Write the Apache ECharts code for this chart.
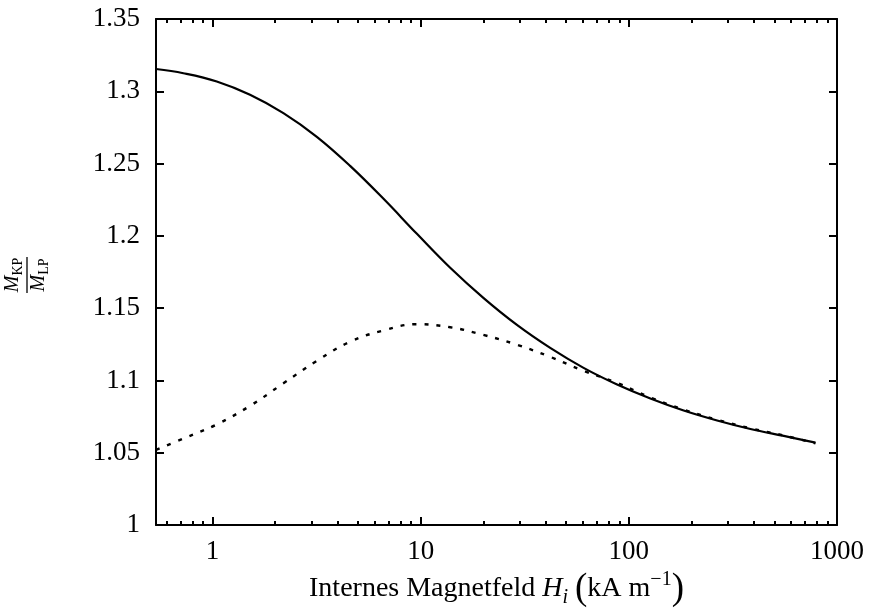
<!DOCTYPE html>
<html>
<head>
<meta charset="utf-8">
<script src="https://cdn.jsdelivr.net/npm/echarts@6/dist/echarts.min.js"></script>
<style>html,body{margin:0;padding:0;background:#fff;}#c{width:879px;height:612px;}</style>
</head>
<body>
<div id="c"></div>
<script>
// ---- data ----
const hSolid = [0.535, 0.724, 1.048, 1.514, 2.19, 3.17, 4.58, 6.63, 9.59, 13.86, 20.0, 29.0, 41.9, 60.6, 87.8, 126.9, 183.4, 265.5, 383.8, 554.9, 788];
const mSolid = [1.3154, 1.3125, 1.3068, 1.2976, 1.2849, 1.2685, 1.2484, 1.2256, 1.2014, 1.1779, 1.1571, 1.1384, 1.1225, 1.1087, 1.0972, 1.0875, 1.0792, 1.0723, 1.0664, 1.0616, 1.0570];
const hDashed = [0.535, 0.724, 1.048, 1.514, 2.19, 3.17, 4.58, 6.63, 9.59, 13.86, 20.0, 29.0, 41.9, 60.6, 87.8, 126.9, 183.4, 265.5, 383.8, 554.9, 788];
const mDashed = [1.0519, 1.0598, 1.0696, 1.0824, 1.0980, 1.1136, 1.1268, 1.1346, 1.1389, 1.1368, 1.1315, 1.1247, 1.1163, 1.1066, 1.0983, 1.0882, 1.0798, 1.0728, 1.0669, 1.0619, 1.0565];
const xMajorTicks = [1, 10, 100, 1000];
const xMinorTicks = [0.6, 0.7, 0.8, 0.9, 2, 3, 4, 5, 6, 7, 8, 9, 20, 30, 40, 50, 60, 70, 80, 90, 200, 300, 400, 500, 600, 700, 800, 900];
const X_MIN = 0.535, X_MAX = 1000;
const Y_MIN = 1, Y_MAX = 1.35, Y_STEP = 0.05;

const FONT = '"Liberation Serif", "DejaVu Serif", serif';
const FS = 27;
const FT = 28;

const chart = echarts.init(document.getElementById('c'), null, {renderer: 'canvas'});

function zip(a, b) { return a.map((v, i) => [v, b[i]]); }

const lineCol = '#000';
function xAxisDef(pos, ticks, len, showLabels, extra) {
  return Object.assign({
    type: 'log', logBase: 10, min: X_MIN, max: X_MAX, position: pos,
    axisLine: {show: pos === 'bottom' && showLabels || pos === 'top' && len > 5, onZero: false, lineStyle: {color: lineCol, width: 2}},
    axisTick: {show: true, inside: true, length: len, customValues: ticks, lineStyle: {color: lineCol, width: 2}},
    axisLabel: {show: showLabels, customValues: ticks, fontFamily: FONT, fontSize: FS, color: '#000', margin: 13,
      formatter: v => String(Math.round(v))},
    splitLine: {show: false}, minorTick: {show: false}, minorSplitLine: {show: false}
  }, extra || {});
}

const option = {
  backgroundColor: '#fff',
  animation: false,
  grid: {left: 156, right: 42, top: 19, bottom: 87, containLabel: false, outerBoundsMode: 'none'},
  xAxis: [
    xAxisDef('bottom', xMajorTicks, 8, true, {
      name: '{t|Internes Magnetfeld }{i|H}{sub|i}{t| }{p|(}{t|kA m}{sup|−1}{p|)}',
      nameLocation: 'middle', nameGap: 43,
      nameTextStyle: {
        fontFamily: FONT, fontSize: FT, color: '#000',
        rich: {
          t: {fontFamily: FONT, fontSize: FT, color: '#000', lineHeight: 38, verticalAlign: 'middle'},
          i: {fontFamily: FONT, fontSize: FT, fontStyle: 'italic', color: '#000', lineHeight: 38, verticalAlign: 'middle'},
          sub: {fontFamily: FONT, fontSize: 20, fontStyle: 'italic', color: '#000', lineHeight: 26, verticalAlign: 'bottom'},
          sup: {fontFamily: FONT, fontSize: 20, color: '#000', lineHeight: 22, verticalAlign: 'top'},
          p: {fontFamily: FONT, fontSize: 37, color: '#000', lineHeight: 38, verticalAlign: 'middle'}
        }
      }
    }),
    xAxisDef('bottom', xMinorTicks, 4, false),
    xAxisDef('top', xMajorTicks, 8, false),
    xAxisDef('top', xMinorTicks, 4, false)
  ],
  yAxis: [
    {
      type: 'value', min: Y_MIN, max: Y_MAX, interval: Y_STEP, position: 'left',
      axisLine: {show: true, lineStyle: {color: lineCol, width: 2}},
      axisTick: {show: true, inside: true, length: 8, lineStyle: {color: lineCol, width: 2}},
      axisLabel: {fontFamily: FONT, fontSize: FS, color: '#000', margin: 16,
        formatter: v => String(parseFloat(v.toFixed(2)))},
      splitLine: {show: false}
    },
    {
      type: 'value', min: Y_MIN, max: Y_MAX, interval: Y_STEP, position: 'right',
      axisLine: {show: true, lineStyle: {color: lineCol, width: 2}},
      axisTick: {show: true, inside: true, length: 8, lineStyle: {color: lineCol, width: 2}},
      axisLabel: {show: false},
      splitLine: {show: false}
    }
  ],
  series: [
    {
      type: 'line', xAxisIndex: 0, yAxisIndex: 0, data: zip(hSolid, mSolid),
      smooth: 0.4, showSymbol: false, symbol: 'none',
      lineStyle: {color: '#000', width: 2.2, type: 'solid'}
    },
    {
      type: 'line', xAxisIndex: 0, yAxisIndex: 0, data: zip(hDashed, mDashed),
      smooth: 0.4, showSymbol: false, symbol: 'none',
      lineStyle: {color: '#000', width: 2.4, type: [4, 8]}
    }
  ],
  graphic: [
    {
      type: 'group', x: 27, y: 275, rotation: Math.PI / 2,
      children: [
        {type: 'line', shape: {x1: -18, y1: 0, x2: 18, y2: 0}, style: {stroke: '#000', lineWidth: 1.3}},
        {type: 'text', x: 0, y: -2, style: {
          text: '{m|M}{s|KP}', align: 'center', verticalAlign: 'bottom',
          rich: {
            m: {fontFamily: FONT, fontSize: 20, fontStyle: 'italic', fill: '#000', lineHeight: 22, verticalAlign: 'top'},
            s: {fontFamily: FONT, fontSize: 14, fill: '#000', lineHeight: 14, verticalAlign: 'bottom'}
          }}},
        {type: 'text', x: 0, y: 2, style: {
          text: '{m|M}{s|LP}', align: 'center', verticalAlign: 'top',
          rich: {
            m: {fontFamily: FONT, fontSize: 20, fontStyle: 'italic', fill: '#000', lineHeight: 22, verticalAlign: 'top'},
            s: {fontFamily: FONT, fontSize: 14, fill: '#000', lineHeight: 14, verticalAlign: 'bottom'}
          }}}
      ]
    }
  ]
};
chart.setOption(option);
</script>
</body>
</html>
